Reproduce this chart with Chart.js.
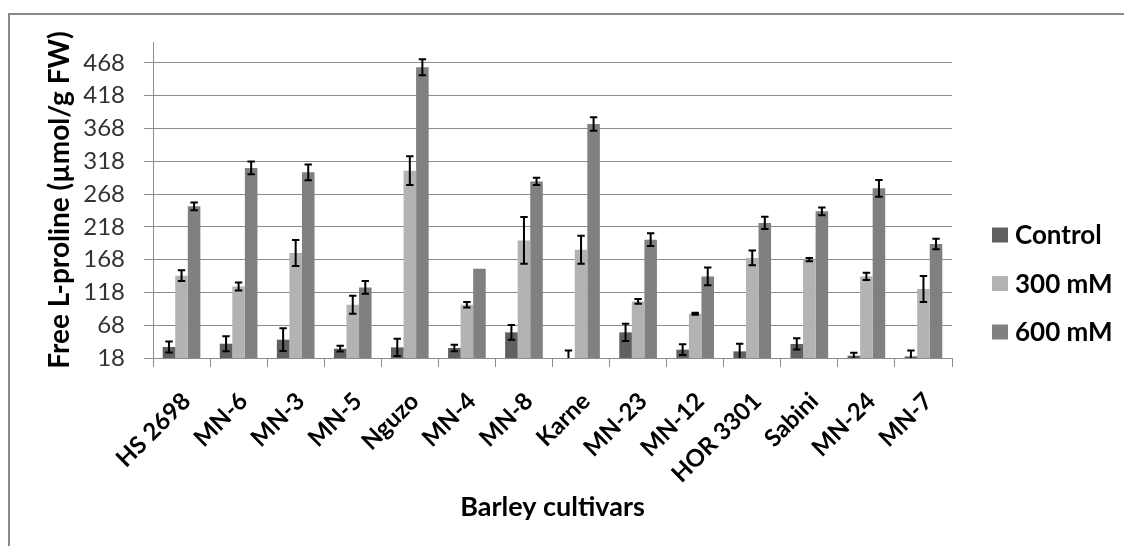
<!DOCTYPE html>
<html>
<head>
<meta charset="utf-8">
<script src="https://cdn.jsdelivr.net/npm/chart.js@4"></script>
<style>
  html, body { margin: 0; padding: 0; background: #fff; }
  #wrap { width: 1124px; height: 546px; }
</style>
</head>
<body>
<div id="wrap"><canvas id="chart" width="1124" height="546"></canvas></div>
<script>
"use strict";

const cultivars = ['HS 2698', 'MN-6', 'MN-3', 'MN-5', 'Nguzo', 'MN-4', 'MN-8',
                   'Karne', 'MN-23', 'MN-12', 'HOR 3301', 'Sabini', 'MN-24', 'MN-7'];

const control     = [34.8, 39.8, 45.9, 32.2, 34.2, 33.3, 57.1, 18.0, 57.1, 30.7, 28.1, 39.4, 21.5, 20.4];
const controlErr  = [8.4, 11.4, 17.3, 4.3, 13.2, 5.1, 11.4, 11.6, 13.2, 8.1, 11.7, 8.6, 4.6, 9.2];
const salt300     = [143.6, 127.2, 178.2, 99.3, 303.7, 99.3, 197.4, 183.2, 104.3, 85.6, 170.6, 168.0, 142.5, 123.3];
const salt300Err  = [8.1, 6.1, 19.8, 13.7, 21.9, 4.1, 35.6, 21.4, 3.6, 1.5, 11.2, 2.5, 5.6, 19.8];
const salt600     = [249.3, 307.9, 301.2, 125.7, 461.3, 154.2, 287.4, 375.0, 198.5, 142.5, 224.0, 241.7, 276.8, 191.9];
const salt600Err  = [5.8, 9.7, 11.9, 9.7, 12.2, 0, 5.6, 10.4, 9.7, 13.5, 9.4, 5.8, 12.7, 8.1];

const yTickValues = [18, 68, 118, 168, 218, 268, 318, 368, 418, 468];

const FONT = 'Lato, "Open Sans", sans-serif';
const GRID = '#8c8c8c';

// white background + the partial frame (top and left edges only)
const framePlugin = {
  id: 'frame',
  beforeDraw(chart) {
    const c = chart.ctx;
    c.save();
    c.fillStyle = '#fff';
    c.fillRect(0, 0, chart.width, chart.height);
    c.strokeStyle = '#8a8a8a';
    c.lineWidth = 2;
    c.beginPath();
    c.moveTo(chart.width, 14);
    c.lineTo(9, 14);
    c.lineTo(9, chart.height);
    c.stroke();
    c.restore();
  }
};

// error bars
const errorBarPlugin = {
  id: 'errorBars',
  afterDatasetsDraw(chart) {
    const c = chart.ctx;
    const y = chart.scales.y;
    const area = chart.chartArea;
    c.save();
    c.beginPath();
    c.rect(area.left, area.top, area.right - area.left, area.bottom - area.top);
    c.clip();
    c.strokeStyle = '#000';
    c.lineWidth = 2;
    chart.data.datasets.forEach((ds, i) => {
      const meta = chart.getDatasetMeta(i);
      meta.data.forEach((bar, j) => {
        const err = ds.errors[j];
        if (!err) return;
        const v = ds.data[j];
        const top = y.getPixelForValue(v + err);
        const bot = y.getPixelForValue(v - err);
        const cap = 3.7;
        c.beginPath();
        c.moveTo(bar.x, top); c.lineTo(bar.x, bot);
        c.moveTo(bar.x - cap, top); c.lineTo(bar.x + cap, top);
        c.moveTo(bar.x - cap, bot); c.lineTo(bar.x + cap, bot);
        c.stroke();
      });
    });
    c.restore();
  }
};

// legend on the right, Excel style
const sideLegendPlugin = {
  id: 'sideLegend',
  afterDraw(chart) {
    const c = chart.ctx;
    c.save();
    c.font = 'bold 26px ' + FONT;
    c.textBaseline = 'middle';
    c.textAlign = 'left';
    chart.data.datasets.forEach((ds, i) => {
      const cy = 235 + i * 48.5;
      c.fillStyle = ds.backgroundColor;
      c.fillRect(992, cy - 7.5, 16, 15);
      c.fillStyle = '#000';
      c.fillText(ds.label, 1015, cy + 1);
    });
    c.restore();
  }
};

new Chart('chart', {
  type: 'bar',
  data: {
    labels: cultivars,
    datasets: [
      { label: 'Control', data: control, errors: controlErr, backgroundColor: '#606060' },
      { label: '300 mM', data: salt300, errors: salt300Err, backgroundColor: '#b3b3b3' },
      { label: '600 mM', data: salt600, errors: salt600Err, backgroundColor: '#808080' }
    ]
  },
  options: {
    responsive: false,
    animation: false,
    events: [],
    layout: { padding: { left: 0, right: 172, top: 42, bottom: 0 } },
    datasets: { bar: { barPercentage: 1.0, categoryPercentage: 0.66 } },
    plugins: {
      legend: { display: false },
      tooltip: { enabled: false }
    },
    scales: {
      x: {
        offset: true,
        grid: { display: true, drawOnChartArea: false, drawTicks: true, tickLength: 9, color: GRID, offset: true },
        border: { color: GRID, width: 1 },
        ticks: {
          minRotation: 45, maxRotation: 45, autoSkip: false, padding: 20, labelOffset: 5,
          color: '#000',
          font: { family: FONT, size: 24, weight: 'bold' }
        },
        title: {
          display: true, text: 'Barley cultivars', color: '#000',
          font: { family: FONT, size: 27, weight: 'bold' },
          padding: { top: 0, bottom: 23 }
        },
        afterFit(scale) { scale.height = 188; }
      },
      y: {
        min: 18,
        max: 500,
        afterBuildTicks(scale) { scale.ticks = yTickValues.map(v => ({ value: v })); },
        grid: { color: GRID, tickLength: 9, drawTicks: true },
        border: { color: GRID, width: 1 },
        ticks: {
          padding: 19, color: '#333',
          font: { family: FONT, size: 24 }
        },
        title: {
          display: true, text: 'Free L-proline (µmol/g FW)', color: '#000',
          font: { family: FONT, size: 28, weight: 'bold' },
          padding: { top: 43, bottom: 0 }
        },
        afterFit(scale) { scale.width = 153; }
      }
    }
  },
  plugins: [framePlugin, errorBarPlugin, sideLegendPlugin]
});
</script>
</body>
</html>
